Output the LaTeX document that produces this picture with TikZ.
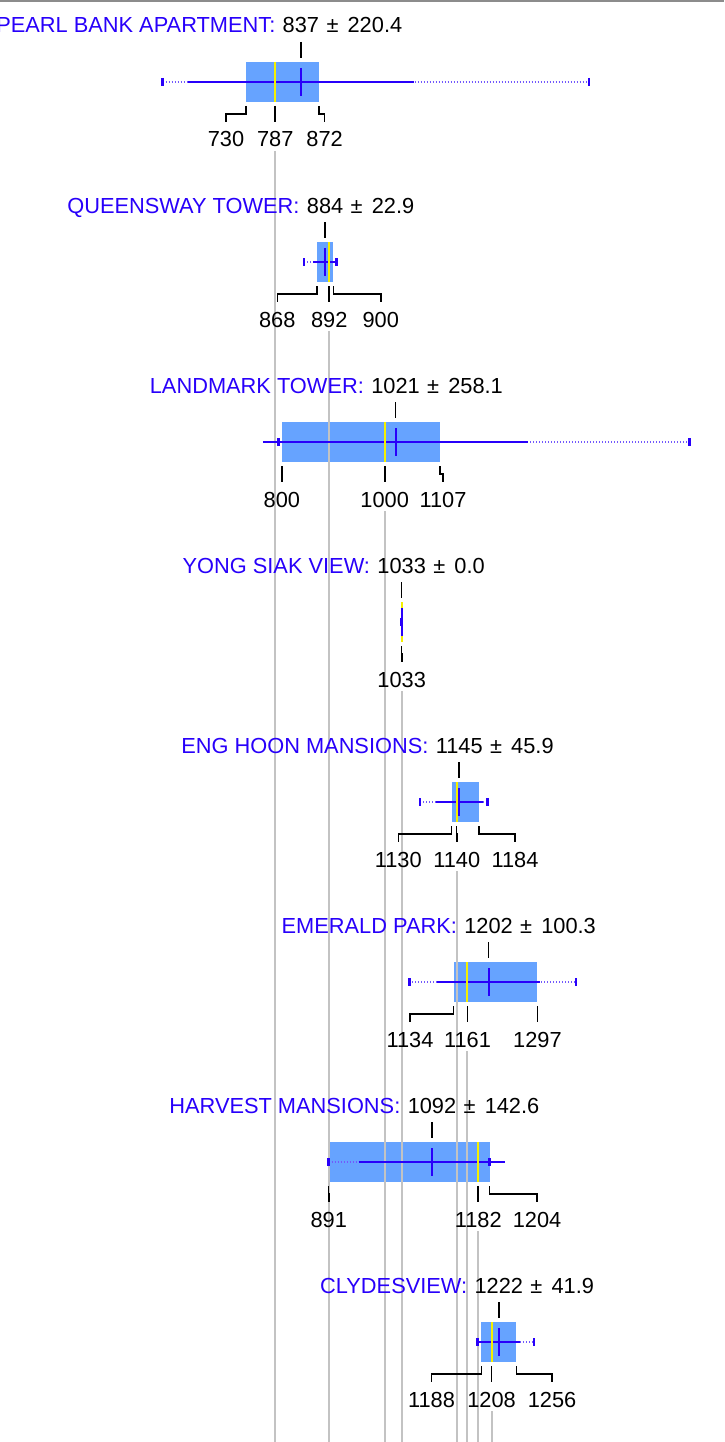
\documentclass[tikz,border=0pt]{standalone}
\usepackage{fontspec}
\setmainfont{Liberation Sans}
\definecolor{blu}{RGB}{40,0,250}
\definecolor{boxfill}{RGB}{102,163,255}
\definecolor{medyel}{RGB}{245,240,0}
\definecolor{gridgray}{RGB}{195,195,195}
\definecolor{topgray}{RGB}{140,140,140}
\def\rows{0/730/787/872/837/220.4/568/1397/PEARL BANK APARTMENT,
1/868/892/900/884/22.9/843/906/QUEENSWAY TOWER,
2/800/1000/1107/1021/258.1/793/1593/LANDMARK TOWER,
3/1033/1033/1033/1033/0.0/1033/1033/YONG SIAK VIEW,
4/1130/1140/1184/1145/45.9/1069/1200/ENG HOON MANSIONS,
5/1134/1161/1297/1202/100.3/1048/1372/EMERALD PARK,
6/891/1182/1204/1092/142.6/891/1204/HARVEST MANSIONS,
7/1188/1208/1256/1222/41.9/1181/1290/CLYDESVIEW}
\begin{document}
\begin{tikzpicture}[x=1pt,y=-1pt,
 declare function={vx(\v)=0.514*\v-129.3;},
 txt/.style={inner sep=0pt, font=\fontsize{21.8}{26}\selectfont},
 nm/.style={txt, text=blu, anchor=base east},
 val/.style={txt, anchor=base},
 sdv/.style={txt, anchor=base west},
 lab/.style={txt, anchor=base, outer ysep=9.5pt},
 bx/.style={fill=boxfill},
 grid/.style={draw=gridgray, line width=2pt},
 wdot/.style={draw=blu!65!white, line width=1.3pt, dash pattern=on 1.1pt off 1.9pt},
 wsol/.style={draw=blu, line width=2.3pt},
 wend/.style={draw=blu, line width=2.5pt},
 meantick/.style={draw=blu, line width=2pt},
 medline/.style={draw=medyel, line width=2pt},
 toptick/.style={draw=black, line width=1.6pt},
 lead/.style={draw=black, line width=1.6pt},
 border/.style={draw=topgray, line width=2pt}]
\useasboundingbox (0,0) rectangle (724,1442);
\coordinate (tl) at (0,1);
\coordinate (tr) at (724,1);
\draw[border] (tl) -- (tr);
% boxes
\foreach \k/\qa/\md/\qb/\mn/\sd/\mi/\ma/\nm in \rows {
  \coordinate (tlb\k) at ({vx(\qa)},{62+180*\k});
  \coordinate (bl\k) at ({vx(\qa)},{102+180*\k});
  \coordinate (br\k) at ({vx(\qb)},{102+180*\k});
  \coordinate (md\k) at ({vx(\md)},{102+180*\k});
  \fill[boxfill] (tlb\k) rectangle (br\k);
}
% grid lines at medians
\foreach \k/\qa/\md/\qb/\mn/\sd/\mi/\ma/\nm in \rows {
  \coordinate (gs\k) at ({vx(\md)},{151+180*\k});
  \coordinate (ge\k) at ({vx(\md)},1442);
  \draw[grid] (gs\k) -- (ge\k);
}
% whiskers, medians, means, titles
\foreach \k/\qa/\md/\qb/\mn/\sd/\mi/\ma/\nm in \rows {
  \draw[wdot] ({vx(\mi)},{82+180*\k}) -- ({vx(\ma)},{82+180*\k});
  \draw[wsol] ({vx(\mn-\sd)},{82+180*\k}) -- ({vx(\mn+\sd)},{82+180*\k});
  \draw[wend] ({vx(\mi)},{78+180*\k}) -- ++(0,8);
  \draw[wend] ({vx(\ma)},{78+180*\k}) -- ++(0,8);
  \draw[medline] ({vx(\md)},{62+180*\k}) -- ({vx(\md)},{102+180*\k});
  \draw[meantick] ({vx(\mn)},{68+180*\k}) -- ({vx(\mn)},{96+180*\k});
  \draw[toptick] ({vx(\mn)},{42+180*\k}) -- ({vx(\mn)},{58+180*\k});
  \node[val] (m\k) at ({vx(\mn)},{33+180*\k}) {\mn};
  \node[nm] (n\k) at ([xshift=-7pt]m\k.base west) {\nm:};
  \node[sdv] (s\k) at ([xshift=7pt]m\k.base east) {±\hspace{0.42em}\sd};
}
% quartile labels and leaders
\foreach \k/\c/\v/\lx in {0/bl/730/226, 0/md/787/275.2, 0/br/872/324.6,
  1/bl/868/277.3, 1/md/892/329.2, 1/br/900/380.7,
  2/bl/800/281.9, 2/md/1000/384.7, 2/br/1107/443,
  3/md/1033/401.7,
  4/bl/1130/398.3, 4/md/1140/456.7, 4/br/1184/515,
  5/bl/1134/410, 5/md/1161/467.5, 5/br/1297/537.4,
  6/bl/891/328.7, 6/md/1182/478.2, 6/br/1204/537,
  7/bl/1188/431.5, 7/md/1208/491.6, 7/br/1256/552} {
  \node[lab] (L\c\k) at (\lx,{147+180*\k}) {\v};
  \draw[lead] ([yshift=-4pt]\c\k) -- ++(0,8) -| (L\c\k.north);
}
\end{tikzpicture}
\end{document}
